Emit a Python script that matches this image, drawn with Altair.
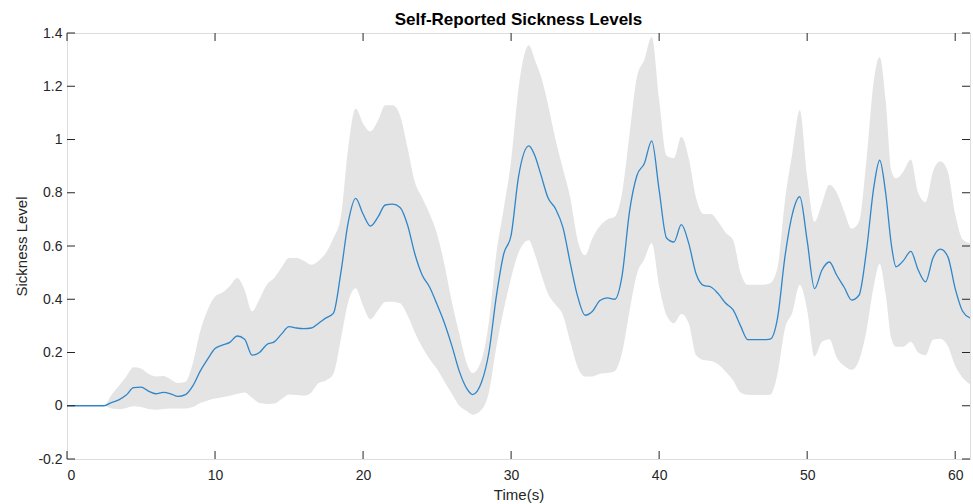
import altair as alt
import pandas as pd

# time grid (s)
time = [0, 0.5, 1.0, 1.5, 2.0, 2.5,
        3.0, 3.5, 4.0, 4.5, 5.0, 5.5, 6.0, 6.5, 7.0, 7.5,
        8.0, 8.5, 9.0, 9.5, 10.0, 10.5, 11.0, 11.5, 12.0, 12.5,
        13.0, 13.5, 14.0, 14.5, 15.0, 15.5, 16.0, 16.5, 17.0, 17.5,
        18.0, 18.5, 19.0, 19.5, 20.0, 20.5, 21.0, 21.5, 22.0, 22.5,
        23.0, 23.5, 24.0, 24.5, 25.0, 25.5, 26.0, 26.5, 27.0, 27.4,
        28.0, 28.5, 29.0, 29.5, 30.0, 30.5, 31.2, 31.6, 32.0, 32.5,
        33.0, 33.5, 34.0, 34.5, 35.0, 35.5, 36.0, 36.5, 37.0, 37.5,
        38.0, 38.5, 39.0, 39.5, 40.0, 40.5, 41.0, 41.5, 42.0, 42.5,
        43.0, 43.5, 44.0, 44.5, 45.0, 45.5, 46.0, 46.5, 47.0, 47.5,
        48.0, 48.5, 49.0, 49.5, 50.0, 50.5, 51.0, 51.5, 52.0, 52.5,
        53.0, 53.5, 54.0, 54.5, 54.9, 55.3, 55.7, 56.0, 56.5, 57.0,
        57.5, 58.0, 58.5, 59.0, 59.5, 60.0, 60.5, 61.0]

# mean self-reported sickness
mean = [0, 0, 0, 0, 0, 0,
        0.012, 0.022, 0.04, 0.068, 0.07, 0.055, 0.045, 0.05, 0.045, 0.035,
        0.042, 0.075, 0.13, 0.175, 0.215, 0.228, 0.238, 0.262, 0.25, 0.19,
        0.2, 0.23, 0.24, 0.27, 0.297, 0.292, 0.29, 0.292, 0.31, 0.33,
        0.348, 0.5, 0.69, 0.779, 0.72, 0.675, 0.708, 0.754, 0.757, 0.745,
        0.68, 0.57, 0.49, 0.445, 0.38, 0.31, 0.225, 0.13, 0.065, 0.042,
        0.088, 0.2, 0.41, 0.57, 0.64, 0.86, 0.976, 0.94, 0.87, 0.78,
        0.74, 0.67, 0.535, 0.41, 0.34, 0.355, 0.395, 0.405, 0.4, 0.49,
        0.73, 0.865, 0.91, 0.995, 0.81, 0.63, 0.615, 0.68, 0.61, 0.495,
        0.452, 0.446, 0.42, 0.385, 0.36, 0.3, 0.248, 0.248, 0.248, 0.25,
        0.33, 0.56, 0.72, 0.785, 0.62, 0.44, 0.51, 0.54, 0.49, 0.445,
        0.397, 0.415, 0.58, 0.82, 0.922, 0.8, 0.6, 0.522, 0.545, 0.58,
        0.51, 0.465, 0.555, 0.588, 0.56, 0.44, 0.355, 0.33]

# upper edge of the shaded band
upper = [0, 0, 0, 0, 0, 0,
         0.04, 0.075, 0.11, 0.145, 0.14, 0.12, 0.11, 0.112, 0.1, 0.085,
         0.09, 0.16, 0.28, 0.36, 0.41, 0.425, 0.45, 0.48, 0.435, 0.355,
         0.4, 0.455, 0.48, 0.52, 0.555, 0.555, 0.545, 0.53, 0.545, 0.575,
         0.63, 0.71, 0.97, 1.116, 1.06, 1.03, 1.07, 1.129, 1.129, 1.09,
         0.97, 0.84, 0.78, 0.72, 0.645, 0.53, 0.39, 0.27, 0.16, 0.123,
         0.172, 0.315, 0.57, 0.74, 0.92, 1.19, 1.354, 1.3, 1.24, 1.13,
         1.0, 0.89, 0.78, 0.62, 0.565, 0.63, 0.675, 0.7, 0.71, 0.8,
         1.02, 1.235, 1.3, 1.385, 1.15, 0.94, 0.93, 1.01, 0.93, 0.78,
         0.72, 0.72, 0.69, 0.65, 0.622, 0.5, 0.454, 0.454, 0.454, 0.46,
         0.52, 0.77, 0.95, 1.11, 0.86, 0.691, 0.76, 0.83, 0.8, 0.73,
         0.665, 0.69, 0.92, 1.22, 1.31, 1.15, 0.88, 0.854, 0.88, 0.925,
         0.8, 0.765, 0.88, 0.918, 0.88, 0.72, 0.625, 0.61]

# lower edge of the shaded band
lower = [0, 0, 0, 0, 0, 0,
         -0.01, -0.013, -0.008, -0.002, -0.005, -0.012, -0.015, -0.012, -0.01, -0.01,
         -0.01, -0.005, 0.01, 0.02, 0.027, 0.032, 0.038, 0.045, 0.05, 0.03,
         0.01, 0.007, 0.008, 0.025, 0.042, 0.04, 0.038, 0.05, 0.085, 0.095,
         0.12, 0.25, 0.39, 0.441, 0.375, 0.325, 0.358, 0.39, 0.391, 0.385,
         0.34, 0.275, 0.22, 0.175, 0.138, 0.09, 0.045, 0.0, -0.02, -0.034,
         -0.015, 0.05, 0.22, 0.36, 0.48, 0.575, 0.622, 0.57, 0.5, 0.42,
         0.38, 0.34, 0.24, 0.145, 0.11, 0.11, 0.12, 0.123, 0.13, 0.2,
         0.355, 0.495, 0.55, 0.61, 0.45, 0.34, 0.31, 0.345, 0.31, 0.19,
         0.172, 0.168, 0.155, 0.128, 0.095, 0.05, 0.041, 0.04, 0.04, 0.041,
         0.12, 0.29, 0.35, 0.454, 0.36, 0.185, 0.24, 0.25, 0.18, 0.15,
         0.135, 0.17, 0.28, 0.45, 0.532, 0.42, 0.25, 0.222, 0.222, 0.24,
         0.2, 0.19, 0.248, 0.252, 0.225, 0.15, 0.105, 0.08]

x_ticks = [0, 10, 20, 30, 40, 50, 60]
y_ticks = [-0.2, 0, 0.2, 0.4, 0.6, 0.8, 1.0, 1.2, 1.4]

assert len(time) == len(mean) == len(upper) == len(lower)

W, H = 903, 426
FONT = "Liberation Sans"
INK = "#262626"
TICK = 8

df = pd.DataFrame({"t": time, "mean": mean, "upper": upper, "lower": lower})
xt = pd.DataFrame({"v": x_ticks})
yt = pd.DataFrame({"v": y_ticks})

xscale = alt.Scale(domain=[0, 61], nice=False, zero=False)
yscale = alt.Scale(domain=[-0.2, 1.4], nice=False, zero=False)

label_expr = "replace(format(datum.value, '~g'), '\u2212', '-')"

xaxis = alt.Axis(values=x_ticks, domain=False, ticks=False, grid=False,
                 labelFont=FONT, labelFontSize=14, labelColor=INK, labelPadding=9,
                 labelExpr=label_expr,
                 title="Time(s)", titleFont=FONT, titleFontSize=15, titleFontWeight="normal",
                 titleColor=INK, titlePadding=5)
yaxis = alt.Axis(values=y_ticks, domain=False, ticks=False, grid=False,
                 labelFont=FONT, labelFontSize=14, labelColor=INK, labelPadding=5,
                 labelExpr=label_expr,
                 title="Sickness Level", titleFont=FONT, titleFontSize=15,
                 titleFontWeight="normal", titleColor=INK, titlePadding=8)

base = alt.Chart(df)

band = base.mark_area(color="#e4e4e4", opacity=1, clip=True,
                      interpolate="monotone").encode(
    x=alt.X("t:Q", scale=xscale, axis=xaxis),
    y=alt.Y("upper:Q", scale=yscale, axis=yaxis),
    y2="lower:Q",
)

line = base.mark_line(color="#2f86c8", strokeWidth=1.3, clip=True,
                      interpolate="monotone").encode(
    x=alt.X("t:Q", scale=xscale),
    y=alt.Y("mean:Q", scale=yscale),
)

xt_bottom = alt.Chart(xt).mark_rule(color=INK, strokeWidth=1).encode(
    x=alt.X("v:Q", scale=xscale), y=alt.value(H), y2=alt.value(H - TICK))
xt_top = alt.Chart(xt).mark_rule(color=INK, strokeWidth=1).encode(
    x=alt.X("v:Q", scale=xscale), y=alt.value(0), y2=alt.value(TICK))
yt_left = alt.Chart(yt).mark_rule(color=INK, strokeWidth=1).encode(
    y=alt.Y("v:Q", scale=yscale), x=alt.value(0), x2=alt.value(TICK))
yt_right = alt.Chart(yt).mark_rule(color=INK, strokeWidth=1).encode(
    y=alt.Y("v:Q", scale=yscale), x=alt.value(W), x2=alt.value(W - TICK))

chart = alt.layer(band, line, xt_bottom, xt_top, yt_left, yt_right).properties(
    width=W, height=H,
    title=alt.TitleParams("Self-Reported Sickness Levels", font=FONT, fontSize=17,
                          fontWeight="bold", color="#000000", anchor="middle", offset=-3),
    autosize=alt.AutoSizeParams(type="none"),
    padding={"left": 67, "top": 33, "right": 3, "bottom": 45},
).configure_view(stroke=INK, strokeWidth=1).configure(background="white")

chart.save("out.html", embed_options={"renderer": "svg", "actions": False})
